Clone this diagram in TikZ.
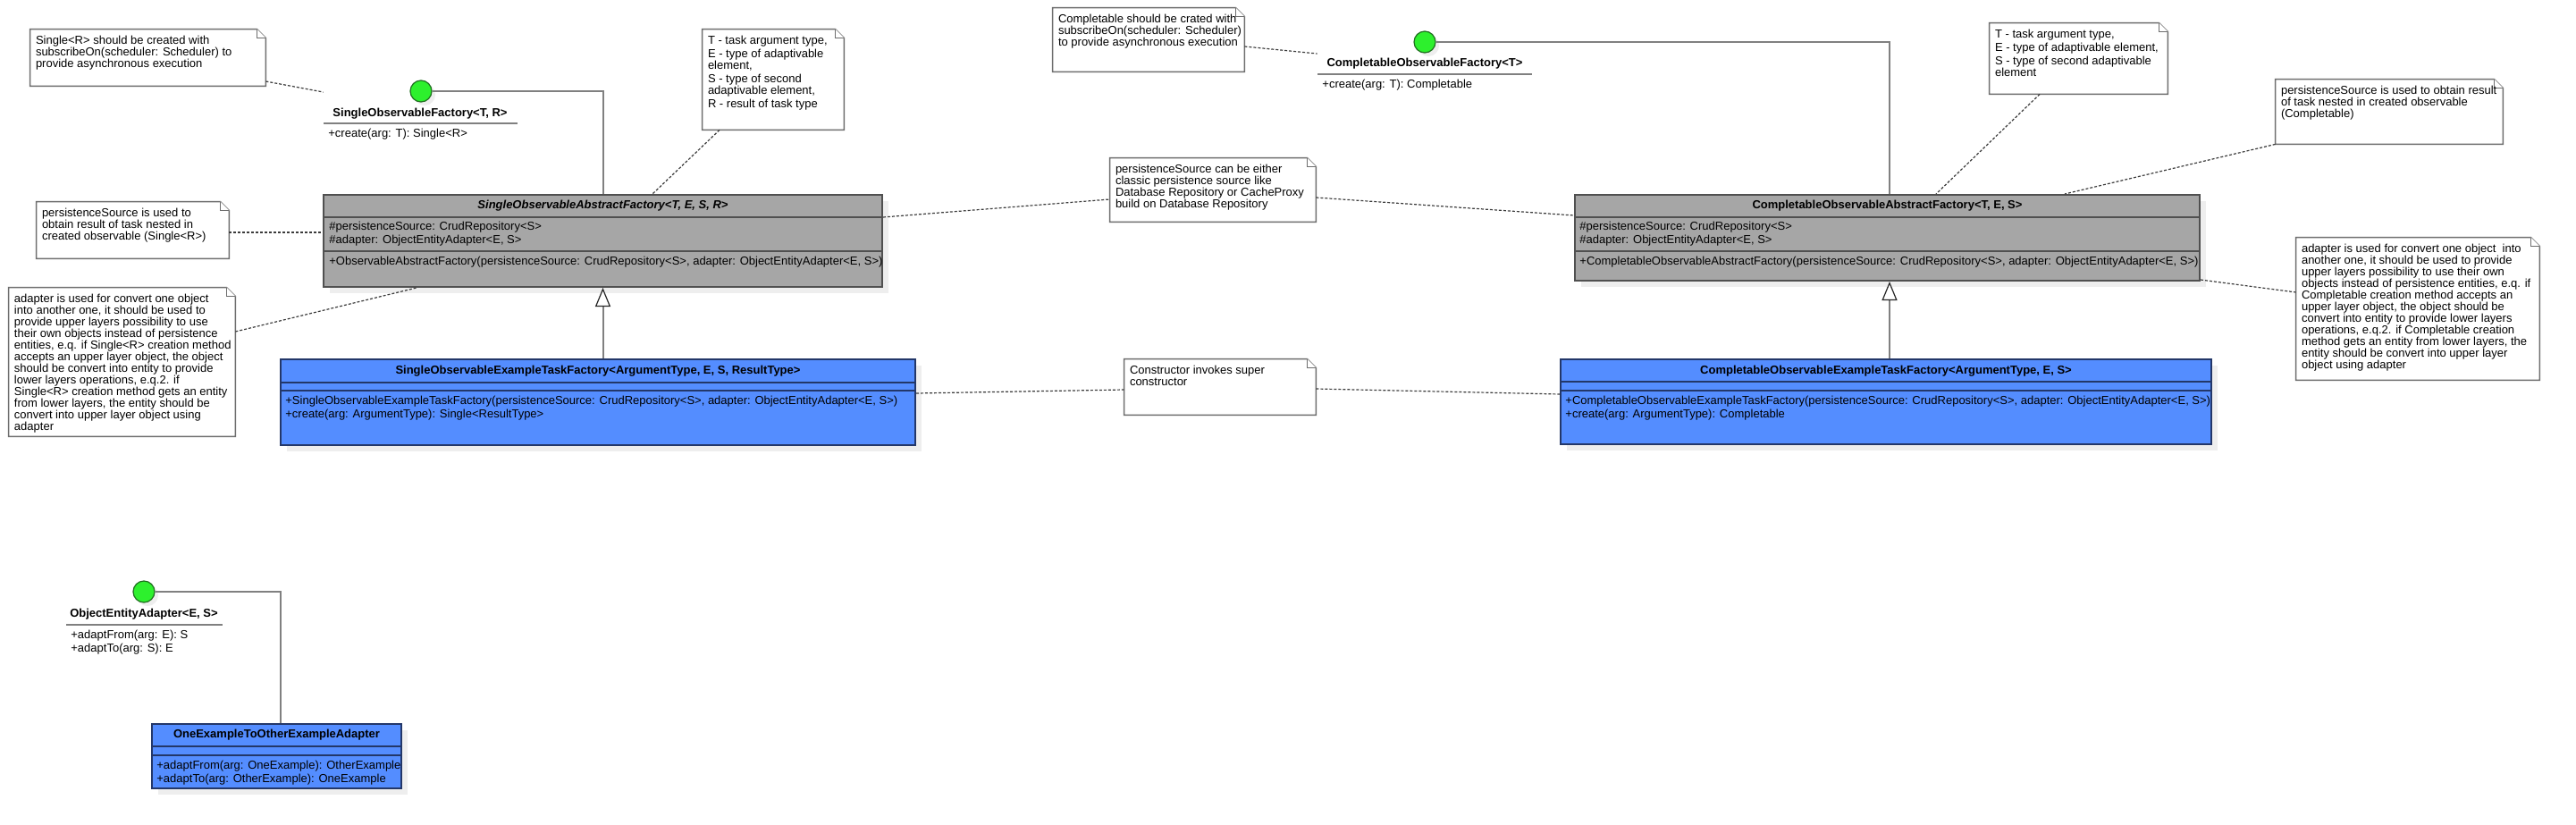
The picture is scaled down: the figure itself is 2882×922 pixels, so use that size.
\documentclass[tikz,border=0pt]{standalone}
\usepackage{fontspec}
\setmainfont{Liberation Sans}
\usetikzlibrary{arrows.meta,fit,calc}
\definecolor{absgray}{RGB}{166,166,166}
\definecolor{absborder}{RGB}{80,80,80}
\definecolor{conblue}{RGB}{84,141,255}
\definecolor{conborder}{RGB}{35,55,105}
\definecolor{shadowc}{RGB}{238,238,238}
\definecolor{ifgreen}{RGB}{45,240,45}
\definecolor{ifborder}{RGB}{30,110,30}
\definecolor{connc}{RGB}{128,128,128}
\definecolor{notec}{RGB}{110,110,110}
\definecolor{dotc}{RGB}{60,60,60}
\newcommand\notefont{\fontsize{6.5pt}{6.5pt}\selectfont\lineskiplimit-5pt\relax}
\newcommand\memberfont{\fontsize{6.5pt}{7.5pt}\selectfont\lineskiplimit-5pt\relax}
\newcommand\umlnote[6]{%
  \node[inner sep=0pt, fit={(#2,#3) (#4,#5)}] (#1) {};
  \filldraw[notebox] (#1.north west) -- ([xshift=-5pt]#1.north east) -- ([yshift=-5pt]#1.north east) -- (#1.south east) -- (#1.south west) -- cycle;
  \draw[notebox] ([xshift=-5pt]#1.north east) |- ([yshift=-5pt]#1.north east);
  \node[notetext] (#1t) at ([xshift=3pt]#1.north west) {\rule{0pt}{8.25pt}#6};
}
\begin{document}
\begin{tikzpicture}[x=0.5pt,y=-0.5pt,
  box/.style={inner sep=0pt, line width=1pt},
  absbox/.style={box, draw=absborder, fill=absgray},
  conbox/.style={box, draw=conborder, fill=conblue},
  absline/.style={draw=absborder, line width=1pt},
  conline/.style={draw=conborder, line width=1pt},
  shadow/.style={fill=shadowc},
  notebox/.style={draw=notec, fill=white, line width=0.7pt},
  notetext/.style={anchor=north west, inner sep=0pt, align=left, font=\notefont},
  member/.style={anchor=north west, inner sep=0pt, align=left, font=\memberfont},
  title/.style={inner sep=0pt, font=\bfseries\fontsize{6.5pt}{6.5pt}\selectfont},
  ifcircle/.style={circle, draw=ifborder, fill=ifgreen, line width=0.6pt, minimum size=12pt, inner sep=0pt},
  ifline/.style={draw=connc, line width=1pt},
  conn/.style={draw=connc, line width=1pt},
  inherit/.style={conn, -{Triangle[length=10.5pt, width=8.5pt, fill=white, color=black!85, line width=0.6pt]}},
  dotted line/.style={draw=dotc, line width=0.6pt, dash pattern=on 1.5pt off 1pt}
]
\fill[white] (0,0) rectangle (2882,922);
\useasboundingbox (0,0) rectangle (2882,922);

% ---------- Interfaces ----------
\fill[shadow] (475,106) circle (6pt);
\node[ifcircle] (sic) at (471,102) {};
\node[inner sep=0pt, fit={(362,90) (579,160)}] (si) {};
\node[title] (sit) at (470,127) {SingleObservableFactory<T, R>};
\draw[ifline] (362,138) -- (579,138);
\node[member] (sim) at (367,138) {\rule{0pt}{7.5pt}+create(arg: T): Single<R>};

\fill[shadow] (1598,51) circle (6pt);
\node[ifcircle] (cic) at (1594,47) {};
\node[inner sep=0pt, fit={(1474,35) (1714,100)}] (ci) {};
\node[title] (cit) at (1594,71) {CompletableObservableFactory<T>};
\draw[ifline] (1474,83) -- (1714,83);
\node[member] (cim) at (1479,83) {\rule{0pt}{7.5pt}+create(arg: T): Completable};

\fill[shadow] (165,666) circle (6pt);
\node[ifcircle] (oic) at (161,662) {};
\node[inner sep=0pt, fit={(74,650) (249,735)}] (oi) {};
\node[title] (oit) at (161,687) {ObjectEntityAdapter<E, S>};
\draw[ifline] (74,699) -- (249,699);
\node[member] (oim) at (79,699) {\rule{0pt}{7.5pt}+adaptFrom(arg: E): S\\+adaptTo(arg: S): E};

% ---------- Classes ----------
% SingleObservableAbstractFactory
\fill[shadow] (369,225) rectangle (994,328);
\node[absbox, fit={(362,218) (987,321)}] (sa) {};
\draw[absline] (sa.west |- 0,243) -- (sa.east |- 0,243);
\draw[absline] (sa.west |- 0,281) -- (sa.east |- 0,281);
\node[title, font=\bfseries\itshape\fontsize{6.5pt}{6.5pt}\selectfont] (sat) at (674.5,230.5) {SingleObservableAbstractFactory<T, E, S, R>};
\node[member] (saa) at (368,243) {\rule{0pt}{7.25pt}\#persistenceSource: CrudRepository<S>\\\#adapter: ObjectEntityAdapter<E, S>};
\node[member] (sam) at (368,281) {\rule{0pt}{7.75pt}+ObservableAbstractFactory(persistenceSource: CrudRepository<S>, adapter: ObjectEntityAdapter<E, S>)};

% CompletableObservableAbstractFactory
\fill[shadow] (1769,225) rectangle (2468,321);
\node[absbox, fit={(1762,218) (2461,314)}] (ca) {};
\draw[absline] (ca.west |- 0,243) -- (ca.east |- 0,243);
\draw[absline] (ca.west |- 0,281) -- (ca.east |- 0,281);
\node[title] (cat) at (2111.5,230.5) {CompletableObservableAbstractFactory<T, E, S>};
\node[member] (caa) at (1767,243) {\rule{0pt}{7.25pt}\#persistenceSource: CrudRepository<S>\\\#adapter: ObjectEntityAdapter<E, S>};
\node[member] (cam) at (1767,281) {\rule{0pt}{7.75pt}+CompletableObservableAbstractFactory(persistenceSource: CrudRepository<S>, adapter: ObjectEntityAdapter<E, S>)};

% SingleObservableExampleTaskFactory
\fill[shadow] (321,409) rectangle (1031,505);
\node[conbox, fit={(314,402) (1024,498)}] (sc) {};
\draw[conline] (sc.west |- 0,428) -- (sc.east |- 0,428);
\draw[conline] (sc.west |- 0,437) -- (sc.east |- 0,437);
\node[title] (sct) at (669,415) {SingleObservableExampleTaskFactory<ArgumentType, E, S, ResultType>};
\node[member] (scm) at (319,437) {\rule{0pt}{7.75pt}+SingleObservableExampleTaskFactory(persistenceSource: CrudRepository<S>, adapter: ObjectEntityAdapter<E, S>)\\+create(arg: ArgumentType): Single<ResultType>};

% CompletableObservableExampleTaskFactory
\fill[shadow] (1753,409) rectangle (2481,504);
\node[conbox, fit={(1746,402) (2474,497)}] (cc) {};
\draw[conline] (cc.west |- 0,427) -- (cc.east |- 0,427);
\draw[conline] (cc.west |- 0,437) -- (cc.east |- 0,437);
\node[title] (cct) at (2110,415) {CompletableObservableExampleTaskFactory<ArgumentType, E, S>};
\node[member] (ccm) at (1751,437) {\rule{0pt}{7.75pt}+CompletableObservableExampleTaskFactory(persistenceSource: CrudRepository<S>, adapter: ObjectEntityAdapter<E, S>)\\+create(arg: ArgumentType): Completable};

% OneExampleToOtherExampleAdapter
\fill[shadow] (177,817) rectangle (456,889);
\node[conbox, fit={(170,810) (449,882)}] (ac) {};
\draw[conline] (ac.west |- 0,835) -- (ac.east |- 0,835);
\draw[conline] (ac.west |- 0,845) -- (ac.east |- 0,845);
\node[title] (act) at (309.5,822.5) {OneExampleToOtherExampleAdapter};
\node[member] (acm) at (175,845) {\rule{0pt}{7.75pt}+adaptFrom(arg: OneExample): OtherExample\\+adaptTo(arg: OtherExample): OneExample};

% ---------- Realization / inheritance ----------
\draw[ifline] (sic.east) -| (sa.north);
\draw[ifline] (cic.east) -| ([xshift=1.25pt]ca.north);
\draw[ifline] (oic.east) -| ([xshift=2.25pt]ac.north);
\draw[inherit] (sa.south |- sc.north) -- (sa.south);
\draw[inherit] ([xshift=1.25pt]ca.south |- cc.north) -- ([xshift=1.25pt]ca.south);

% ---------- Notes ----------
\umlnote{n1}{34}{33}{297}{96}{Single<R> should be created with\\subscribeOn(scheduler: Scheduler) to\\provide asynchronous execution}
\umlnote{nt1}{786}{33}{944}{145}{T - task argument type,\\[1pt]E - type of adaptivable\\element,\\[1pt]S - type of second\\adaptivable element,\\[1pt]R - result of task type}
\umlnote{n2}{41}{226}{256}{289}{persistenceSource is used to\\obtain result of task nested in\\created observable (Single<R>)}
\umlnote{n3}{10}{322}{263}{488}{adapter is used for convert one object\\into another one, it should be used to\\provide upper layers possibility to use\\their own objects instead of persistence\\entities, e.q. if Single<R> creation method\\accepts an upper layer object, the object\\should be convert into entity to provide\\lower layers operations, e.q.2. if\\Single<R> creation method gets an entity\\from lower layers, the entity should be\\convert into upper layer object using\\adapter}
\umlnote{np}{1242}{177}{1472}{248}{persistenceSource can be either\\classic persistence source like\\Database Repository or CacheProxy\\build on Database Repository}
\umlnote{ncons}{1258}{402}{1472}{464}{Constructor invokes super\\constructor}
\umlnote{nc1}{1178}{9}{1392}{80}{Completable should be crated with\\subscribeOn(scheduler: Scheduler)\\to provide asynchronous execution}
\umlnote{nt2}{2226}{26}{2425}{105}{T - task argument type,\\[1pt]E - type of adaptivable element,\\[1pt]S - type of second adaptivable\\element}
\umlnote{np2}{2546}{89}{2800}{161}{persistenceSource is used to obtain result\\of task nested in created observable\\(Completable)}
\umlnote{na2}{2569}{266}{2841}{425}{adapter is used for convert one object~ into\\another one, it should be used to provide\\upper layers possibility to use their own\\objects instead of persistence entities, e.q. if\\Completable creation method accepts an\\upper layer object, the object should be\\convert into entity to provide lower layers\\operations, e.q.2. if Completable creation\\method gets an entity from lower layers, the\\entity should be convert into upper layer\\object using adapter}

% ---------- Note anchors (dotted) ----------
\draw[dotted line] (n1.east |- 0,91) -- (si.west |- 0,103);
\draw[dotted line] (nt1.south -| 805,0) -- (sa.north -| 730,0);
\draw[dotted line] (n2.east |- 0,260) -- (sa.west |- 0,260);
\draw[dotted line] (n3.east |- 0,371) -- (sa.south -| 466,0);
\draw[dotted line] (sa.east |- 0,243) -- (np.west |- 0,223);
\draw[dotted line] (np.east |- 0,221) -- (ca.west |- 0,241);
\draw[dotted line] (sc.east |- 0,440) -- (ncons.west |- 0,436);
\draw[dotted line] (ncons.east |- 0,435) -- (cc.west |- 0,441);
\draw[dotted line] (nc1.east |- 0,52) -- (ci.west |- 0,60);
\draw[dotted line] (nt2.south -| 2282,0) -- (ca.north -| 2166,0);
\draw[dotted line] (np2.south west) -- (ca.north -| 2310,0);
\draw[dotted line] (ca.east |- 0,313) -- (na2.west |- 0,327);
\end{tikzpicture}
\end{document}
